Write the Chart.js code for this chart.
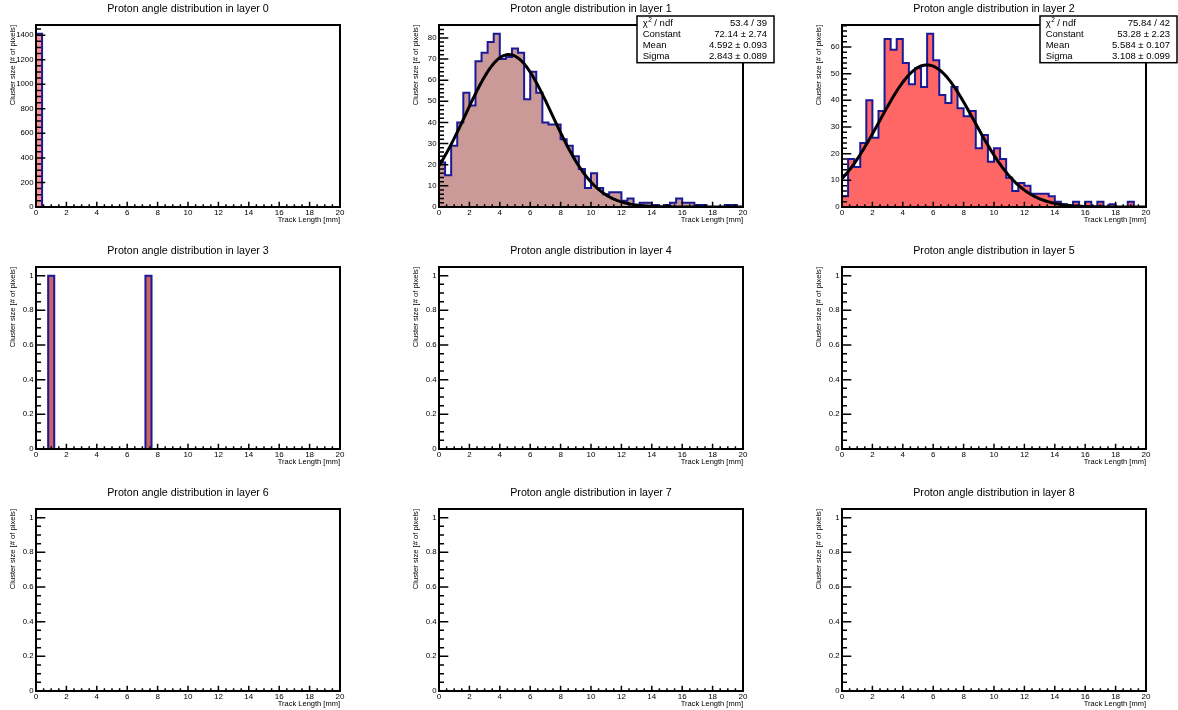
<!DOCTYPE html>
<html>
<head>
<meta charset="utf-8">
<title>Proton angle distribution per layer</title>
<script src="https://cdn.jsdelivr.net/npm/chart.js@4.4.1/dist/chart.umd.min.js"></script>
<style>
  html, body { margin: 0; padding: 0; background: #fff; overflow: hidden; }
  #grid { position: relative; width: 1178px; height: 710px; overflow: hidden; }
  #grid canvas { position: absolute; }
</style>
</head>
<body>
<div id="grid"></div>
<script>
const family = '"Liberation Sans", Arial, Helvetica, sans-serif'

// 50 bins of 0.4 mm between 0 and 20 mm
const xMin = 0
const xMax = 20
const binWidth = 0.4
const xTickStep = 2
const xMinorStep = 0.5

const layer0Counts = [
  1412, 0, 0, 0, 0, 0, 0, 0, 0, 0,
  0, 0, 0, 0, 0, 0, 0, 0, 0, 0,
  0, 0, 0, 0, 0, 0, 0, 0, 0, 0,
  0, 0, 0, 0, 0, 0, 0, 0, 0, 0,
  0, 0, 0, 0, 0, 0, 0, 0, 0, 0
]
const layer1Counts = [
  21, 15, 29, 40, 54, 48, 69, 73, 78, 82,
  70, 71, 75, 73, 51, 64, 54, 40, 39, 39,
  32, 29, 24, 18, 9, 16, 9, 6, 7, 7,
  3, 4, 1, 2, 2, 1, 0, 1, 2, 4,
  2, 2, 1, 1, 0, 0, 0, 1, 1, 0
]
const layer2Counts = [
  4, 18, 15, 24, 40, 26, 36, 63, 59, 63,
  54, 46, 52, 45, 65, 55, 42, 39, 45, 37,
  34, 36, 22, 27, 17, 22, 18, 11, 6, 9,
  8, 5, 5, 5, 4, 2, 1, 0, 2, 0,
  2, 0, 2, 0, 1, 0, 0, 2, 0, 0
]
const layer3Counts = [
  0, 0, 1, 0, 0, 0, 0, 0, 0, 0,
  0, 0, 0, 0, 0, 0, 0, 0, 1, 0,
  0, 0, 0, 0, 0, 0, 0, 0, 0, 0,
  0, 0, 0, 0, 0, 0, 0, 0, 0, 0,
  0, 0, 0, 0, 0, 0, 0, 0, 0, 0
]
const emptyCounts = []

const layerCounts = [
  layer0Counts, layer1Counts, layer2Counts, layer3Counts,
  emptyCounts, emptyCounts, emptyCounts, emptyCounts, emptyCounts
]

// y axis ranges and tick spacing per layer
const yMaxes = [1482.6, 86.1, 68.25, 1.05, 1.05, 1.05, 1.05, 1.05, 1.05]
const yTickSteps = [200, 10, 10, 0.2, 0.2, 0.2, 0.2, 0.2, 0.2]
const yMinorSteps = [50, 2, 2, 0.05, 0.05, 0.05, 0.05, 0.05, 0.05]

const fillColors = ['#ff9494', '#cc9999', '#ff6666', '#c86464',
  '#ff9494', '#ff9494', '#ff9494', '#ff9494', '#ff9494']
const outlineColor = '#1a1a96'

// gaussian fit results (layers 1 and 2)
const fitChi2 = [null, 53.4, 75.84]
const fitNdf = [null, 39, 42]
const fitConstant = [null, 72.14, 53.28]
const fitConstantErr = [null, 2.74, 2.23]
const fitMean = [null, 4.592, 5.584]
const fitMeanErr = [null, 0.093, 0.107]
const fitSigma = [null, 2.843, 3.108]
const fitSigmaErr = [null, 0.089, 0.099]

// frame placement on the page
const frameLeft = [36, 439, 842]
const frameTop = [25, 267, 509]
const frameW = 304
const frameH = 182
const canvasW = 372
const canvasH = 228
const axisW = 36
const titleH = 25

function histPoints(counts) {
  const pts = [{ x: xMin, y: 0 }]
  const n = Math.round((xMax - xMin) / binWidth)
  for (let i = 0; i < n; i++) {
    pts.push({ x: xMin + i * binWidth, y: counts[i] || 0 })
  }
  pts.push({ x: xMax, y: counts[n - 1] || 0 })
  pts.push({ x: xMax, y: 0 })
  return pts
}

function gausPoints(c, mean, sigma) {
  const pts = []
  for (let k = 0; k <= 200; k++) {
    const x = xMin + (k * (xMax - xMin)) / 200
    pts.push({ x: x, y: c * Math.exp(-0.5 * Math.pow((x - mean) / sigma, 2)) })
  }
  return pts
}

function fmt(v) {
  return String(Number(v.toFixed(4)))
}

// inward ticks, full frame and the fit box
const rootFrame = {
  id: 'rootFrame',
  afterDatasetsDraw(chart, args, opts) {
    const { ctx, chartArea: ca, scales } = chart
    const xs = scales.x
    const ys = scales.y
    ctx.save()
    ctx.strokeStyle = '#000'
    ctx.lineWidth = 1.5
    ctx.beginPath()
    for (let v = xs.min; v <= xs.max + 1e-9; v += xMinorStep) {
      const px = xs.getPixelForValue(v)
      const major = Math.abs(v / xTickStep - Math.round(v / xTickStep)) < 1e-6
      ctx.moveTo(px, ca.bottom)
      ctx.lineTo(px, ca.bottom - (major ? 5.3 : 2.7))
    }
    const step = opts.minor
    for (let k = 0; k * step <= ys.max + 1e-9; k++) {
      const v = k * step
      const py = ys.getPixelForValue(v)
      const major = Math.abs(v / opts.major - Math.round(v / opts.major)) < 1e-6
      ctx.moveTo(ca.left, py)
      ctx.lineTo(ca.left + (major ? 9.3 : 5), py)
    }
    ctx.stroke()
    ctx.lineWidth = 2
    ctx.strokeRect(ca.left, ca.top, ca.right - ca.left, ca.bottom - ca.top)
    ctx.restore()
  },
  afterDraw(chart, args, opts) {
    const f = opts.fit
    if (f == null) return
    const { ctx, chartArea: ca } = chart
    const left = ca.right - 106
    const right = ca.right + 31
    const top = ca.top - 9
    const bottom = ca.top + 37.7
    ctx.save()
    ctx.fillStyle = '#fff'
    ctx.fillRect(left, top, right - left, bottom - top)
    ctx.strokeStyle = '#000'
    ctx.lineWidth = 1.5
    ctx.strokeRect(left, top, right - left, bottom - top)
    ctx.fillStyle = '#000'
    ctx.textBaseline = 'middle'
    ctx.font = '9.5px ' + family
    const rows = [
      ['', fitChi2[f] + ' / ' + fitNdf[f]],
      ['Constant', fitConstant[f] + ' \u00b1 ' + fitConstantErr[f]],
      ['Mean', fitMean[f] + ' \u00b1 ' + fitMeanErr[f]],
      ['Sigma', fitSigma[f] + ' \u00b1 ' + fitSigmaErr[f]]
    ]
    rows.forEach((r, k) => {
      const y = top + 7.3 + k * 11.1
      ctx.textAlign = 'left'
      if (k === 0) {
        ctx.fillText('\u03c7', left + 5.7, y)
        const w = ctx.measureText('\u03c7').width
        ctx.font = '6.5px ' + family
        ctx.fillText('2', left + 5.7 + w + 0.5, y - 3)
        ctx.font = '9.5px ' + family
        ctx.fillText(' / ndf', left + 5.7 + w + 4, y)
      } else {
        ctx.fillText(r[0], left + 5.7, y)
      }
      ctx.textAlign = 'right'
      ctx.fillText(r[1], right - 7, y)
    })
    ctx.restore()
  }
}

function makeChart(layer) {
  const col = layer % 3
  const row = Math.floor(layer / 3)
  const canvas = document.createElement('canvas')
  canvas.width = canvasW
  canvas.height = canvasH
  canvas.style.left = frameLeft[col] - axisW + 'px'
  canvas.style.top = frameTop[row] - titleH + 'px'
  document.getElementById('grid').appendChild(canvas)

  const datasets = [
    {
      data: histPoints(layerCounts[layer]),
      stepped: 'before',
      borderColor: outlineColor,
      borderWidth: 2,
      backgroundColor: fillColors[layer],
      fill: 'origin',
      pointRadius: 0,
      order: 2
    }
  ]
  const hasFit = fitMean[layer] != null
  if (hasFit) {
    datasets.push({
      data: gausPoints(fitConstant[layer], fitMean[layer], fitSigma[layer]),
      borderColor: '#000',
      borderWidth: 3,
      pointRadius: 0,
      fill: false,
      tension: 0,
      order: 1
    })
  }

  const titleLine = 10.7 * 1.2
  new Chart(canvas, {
    type: 'line',
    data: { datasets },
    options: {
      responsive: false,
      animation: false,
      events: [],
      layout: { padding: { left: 0, top: 0, right: canvasW - axisW - frameW, bottom: 0 } },
      plugins: {
        legend: { display: false },
        tooltip: { enabled: false },
        title: {
          display: true,
          fullSize: false,
          text: 'Proton angle distribution in layer ' + layer,
          color: '#000',
          font: { family, size: 10.7, weight: 'normal' },
          padding: { top: 2.4, bottom: titleH - titleLine - 2.4 }
        },
        rootFrame: {
          major: yTickSteps[layer],
          minor: yMinorSteps[layer],
          fit: hasFit ? layer : null
        }
      },
      scales: {
        x: {
          type: 'linear',
          min: xMin,
          max: xMax,
          grid: { display: false, drawTicks: false },
          border: { display: false },
          ticks: {
            stepSize: xTickStep,
            includeBounds: false,
            autoSkip: false,
            maxRotation: 0,
            padding: 1,
            color: '#000',
            font: { family, size: 8 },
            callback: (v) => fmt(v)
          },
          title: {
            display: true,
            text: 'Track Length [mm]',
            align: 'end',
            color: '#000',
            font: { family, size: 7.5 },
            padding: { top: 0, bottom: 3.5 }
          },
          afterFit: (s) => {
            s.height = canvasH - titleH - frameH
          }
        },
        y: {
          min: 0,
          max: yMaxes[layer],
          grid: { display: false, drawTicks: false },
          border: { display: false },
          ticks: {
            stepSize: yTickSteps[layer],
            includeBounds: false,
            padding: 2.5,
            color: '#000',
            font: { family, size: 7.8 },
            callback: (v) => fmt(v)
          },
          title: {
            display: true,
            text: 'Cluster size [# of pixels]',
            align: 'end',
            color: '#000',
            font: { family, size: 7.6 },
            padding: { top: 8.7, bottom: 0 }
          },
          afterFit: (s) => {
            s.width = axisW
          }
        }
      }
    },
    plugins: [rootFrame]
  })
}

for (let layer = 0; layer < 9; layer++) {
  makeChart(layer)
}
</script>
</body>
</html>
